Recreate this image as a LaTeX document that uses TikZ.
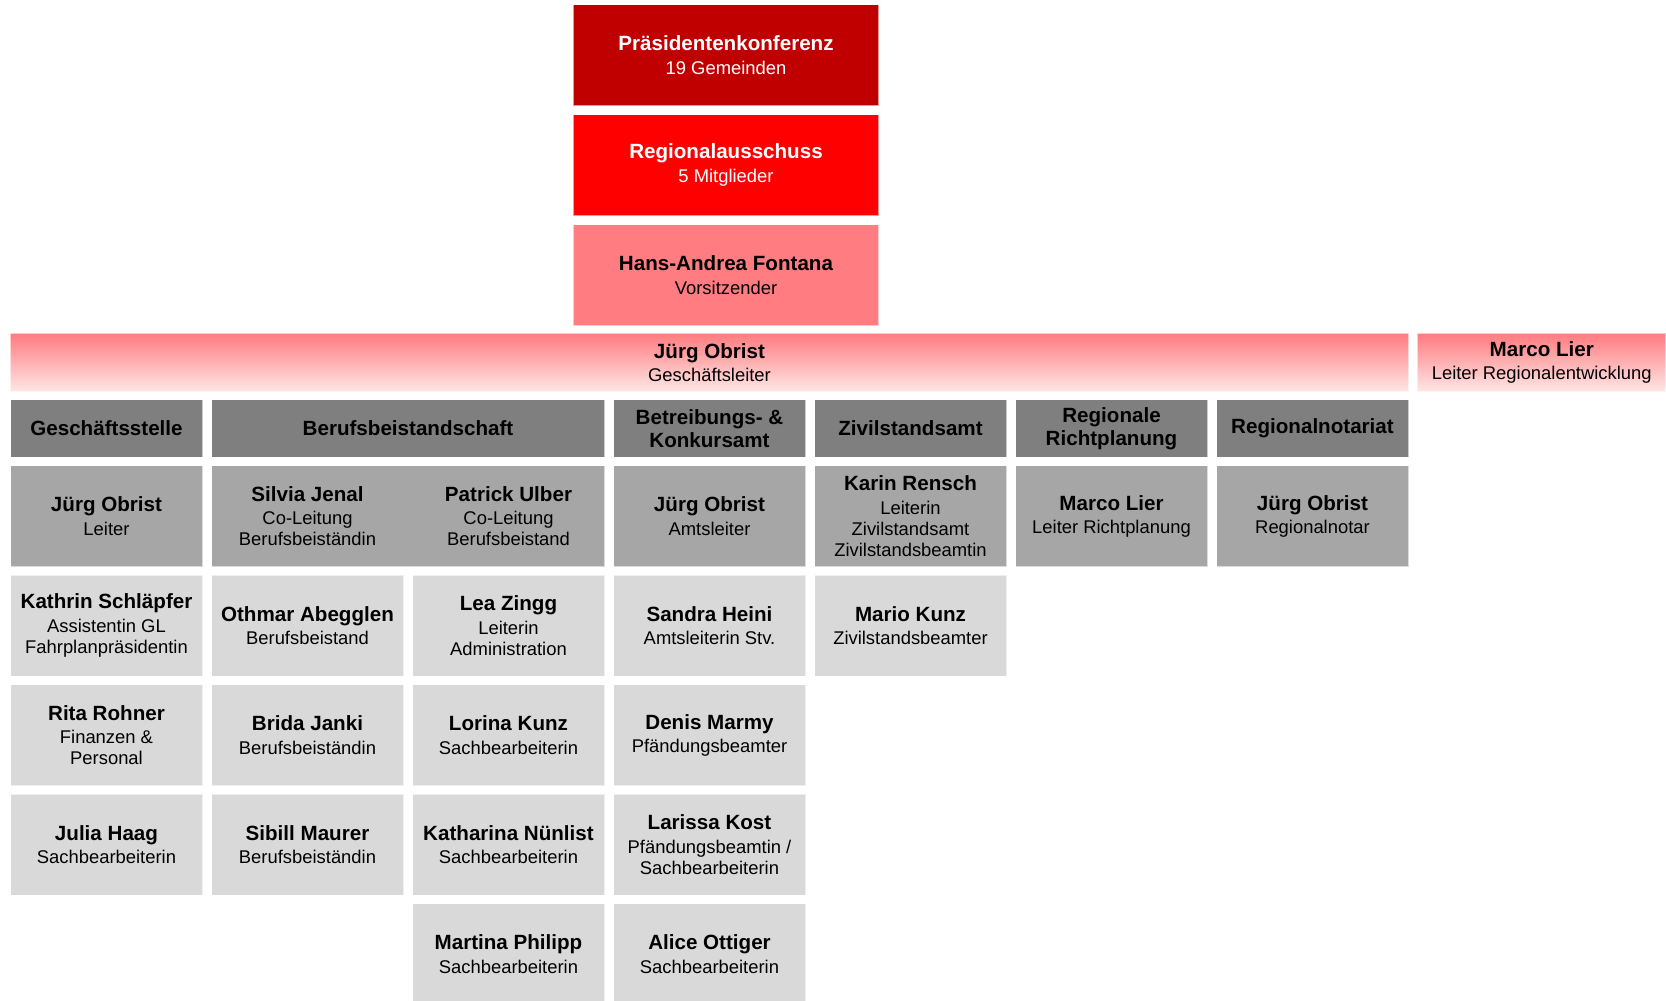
\documentclass[tikz,border=0pt]{standalone}
\usepackage{fontspec}
\setmainfont{Liberation Sans}
\usepackage{tikz}
\usetikzlibrary{positioning}
\usepackage{xcolor}

\definecolor{konfred}{HTML}{C00000}
\definecolor{ausred}{HTML}{FF0000}
\definecolor{vorsred}{HTML}{FF7C80}
\definecolor{bandtop}{HTML}{FF7C80}
\definecolor{bandbot}{HTML}{FFE6E6}
\definecolor{headgray}{HTML}{7F7F7F}
\definecolor{leadgray}{HTML}{A6A6A6}
\definecolor{staffgray}{HTML}{D9D9D9}

\newcommand{\pers}[2]{{\fontsize{10.3}{11.7}\selectfont\bfseries #1}\\[1.1pt]#2}

\begin{document}
\begin{tikzpicture}[x=0.5pt, y=-0.5pt,
    lbl/.style={align=center, inner sep=0pt, outer sep=0pt, text=black,
        font=\fontsize{9.2}{10.6}\selectfont},
    box/.style={lbl, draw=white, draw opacity=0.6, line width=0.6pt},
    topbox/.style={box, minimum width=153pt, minimum height=50.5pt},
    band/.style={box, minimum height=28.7pt, top color=bandtop, bottom color=bandbot},
    head/.style={box, fill=headgray, minimum width=96pt, minimum height=28.7pt,
        font=\fontsize{10.3}{11.7}\selectfont\bfseries},
    lead/.style={box, fill=leadgray, minimum width=96pt, minimum height=50.5pt},
    staff/.style={box, fill=staffgray, minimum width=96pt, minimum height=50.5pt}
]
\useasboundingbox (0,0) rectangle (1666,1001);

% Top
\node[topbox, fill=konfred, text=white] (konf) at (726,55) {\pers{Präsidentenkonferenz}{19 Gemeinden}};
\node[topbox, fill=ausred, text=white, below=4.5pt of konf] (aus) {\pers{Regionalausschuss}{5 Mitglieder}};
\node[topbox, fill=vorsred, below=4.5pt of aus] (vors) {\pers{Hans-Andrea Fontana}{Vorsitzender}};

% Geschaeftsleitung
\node[band, minimum width=699pt] (gl) at (709.5,362.5) {\pers{Jürg Obrist}{Geschäftsleiter}};
\node[band, minimum width=124.25pt, right=4.5pt of gl] (rent) {\pers{Marco Lier}{Leiter Regionalentwicklung}};

% Abteilungen
\node[head] (gs) at (106.5,428.5) {Geschäftsstelle};
\node[head, minimum width=196.5pt, right=4.5pt of gs] (bb) {Berufsbeistandschaft};
\node[head, right=4.5pt of bb] (bk) {Betreibungs- \&\\Konkursamt};
\node[head, right=4.5pt of bk] (zs) {Zivilstandsamt};
\node[head, right=4.5pt of zs] (rr) {Regionale\\Richtplanung};
\node[head, right=4.5pt of rr] (rn) {Regionalnotariat};

% Leitung
\node[lead, below=4.25pt of gs] (gsl) {\pers{Jürg Obrist}{Leiter}};
\node[lead, minimum width=196.5pt, below=4.25pt of bb] (bbl) {};
\node[lbl] (jenal) at ([xshift=-50.25pt]bbl.center) {\pers{Silvia Jenal}{Co-Leitung\\Berufsbeiständin}};
\node[lbl] (ulber) at ([xshift=50.25pt]bbl.center) {\pers{Patrick Ulber}{Co-Leitung\\Berufsbeistand}};
\node[lead, below=4.25pt of bk] (bkl) {\pers{Jürg Obrist}{Amtsleiter}};
\node[lead, below=4.25pt of zs] (zsl) {\pers{Karin Rensch}{Leiterin\\Zivilstandsamt\\Zivilstandsbeamtin}};
\node[lead, below=4.25pt of rr] (rrl) {\pers{Marco Lier}{Leiter Richtplanung}};
\node[lead, below=4.25pt of rn] (rnl) {\pers{Jürg Obrist}{Regionalnotar}};

% Geschaeftsstelle
\node[staff, below=4.25pt of gsl] (schlaepfer) {\pers{Kathrin Schläpfer}{Assistentin GL\\Fahrplanpräsidentin}};
\node[staff, below=4.25pt of schlaepfer] (rohner) {\pers{Rita Rohner}{Finanzen \&\\Personal}};
\node[staff, below=4.25pt of rohner] (haag) {\pers{Julia Haag}{Sachbearbeiterin}};

% Berufsbeistandschaft
\node[staff, anchor=north west] (abegglen) at ([yshift=-4.25pt]bbl.south west) {\pers{Othmar Abegglen}{Berufsbeistand}};
\node[staff, below=4.25pt of abegglen] (janki) {\pers{Brida Janki}{Berufsbeiständin}};
\node[staff, below=4.25pt of janki] (maurer) {\pers{Sibill Maurer}{Berufsbeiständin}};
\node[staff, anchor=north east] (zingg) at ([yshift=-4.25pt]bbl.south east) {\pers{Lea Zingg}{Leiterin\\Administration}};
\node[staff, below=4.25pt of zingg] (lkunz) {\pers{Lorina Kunz}{Sachbearbeiterin}};
\node[staff, below=4.25pt of lkunz] (nuenlist) {\pers{Katharina Nünlist}{Sachbearbeiterin}};
\node[staff, below=4.25pt of nuenlist] (philipp) {\pers{Martina Philipp}{Sachbearbeiterin}};

% Betreibungs- und Konkursamt
\node[staff, below=4.25pt of bkl] (heini) {\pers{Sandra Heini}{Amtsleiterin Stv.}};
\node[staff, below=4.25pt of heini] (marmy) {\pers{Denis Marmy}{Pfändungsbeamter}};
\node[staff, below=4.25pt of marmy] (kost) {\pers{Larissa Kost}{Pfändungsbeamtin /\\Sachbearbeiterin}};
\node[staff, below=4.25pt of kost] (ottiger) {\pers{Alice Ottiger}{Sachbearbeiterin}};

% Zivilstandsamt
\node[staff, below=4.25pt of zsl] (mkunz) {\pers{Mario Kunz}{Zivilstandsbeamter}};

\end{tikzpicture}
\end{document}
